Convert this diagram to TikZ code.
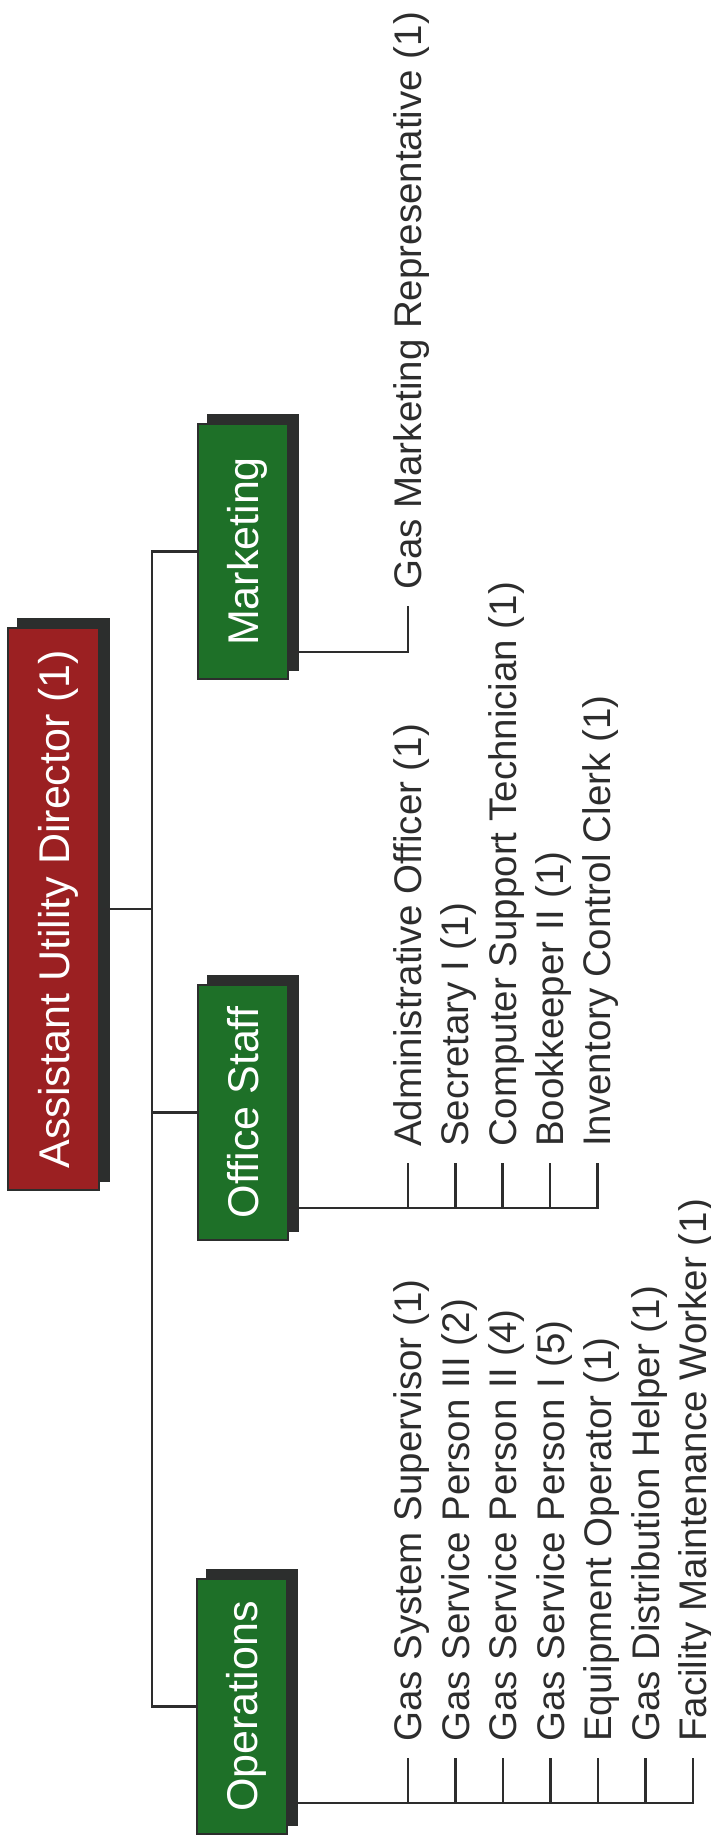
\documentclass[tikz,border=0pt]{standalone}
\usepackage{fontspec}
\setmainfont{Liberation Sans}
\usetikzlibrary{positioning,backgrounds}
\definecolor{dirred}{RGB}{155,32,34}
\definecolor{deptgreen}{RGB}{30,112,40}
\definecolor{shadowgrey}{RGB}{44,46,45}
\definecolor{linegrey}{RGB}{45,45,45}

\tikzset{
	boss/.style={draw=shadowgrey, line width=2pt, fill=dirred, text=white, rotate=90,
		minimum width=562pt, minimum height=91pt, inner sep=0pt, text height=31pt, text depth=0pt,
		font=\fontsize{43}{43}\selectfont},
	dept/.style={draw=shadowgrey, line width=2pt, fill=deptgreen, text=white, rotate=90,
		minimum width=255pt, minimum height=90pt, inner sep=0pt, text height=31pt, text depth=0pt,
		font=\fontsize{43}{43}\selectfont},
	job/.style={rotate=90, anchor=west, inner xsep=16pt, inner ysep=0pt, text height=27pt, text depth=0pt,
		text=linegrey, font=\fontsize{38.5}{38.5}\selectfont},
	link/.style={draw=linegrey, line width=2.6pt},
}

\begin{document}
\begin{tikzpicture}[x=1pt, y=-1pt]
	\useasboundingbox (0,0) rectangle (711,1838);
	% boxes
	\node[boss] (dir) at (53.5,909) {Assistant Utility Director (1)};
	\node[dept] (mkt) at (242.5,551.5) {Marketing};
	\node[dept] (office) at (242.5,1112.5) {Office Staff};
	\node[dept] (ops) at (242,1706.5) {Operations};
	\begin{pgfonlayer}{background}
		\foreach \b in {dir,mkt,office,ops}
			\fill[shadowgrey] ([xshift=10pt,yshift=9pt]\b.south west) rectangle ([xshift=10pt,yshift=9pt]\b.north east);
	\end{pgfonlayer}
	% trunk
	\coordinate (trunk) at (152,909);
	\draw[link] (dir.south) -- (trunk);
	\draw[link] (mkt.north) -| (trunk) |- (ops.north);
	\draw[link] (office.north) -- (office.north -| trunk);
	% marketing
	\node[job] (gmr) at (408,606) {Gas Marketing Representative (1)};
	\coordinate (mktbus) at ([yshift=28pt]mkt.south west);
	\draw[link] (mktbus) -| (gmr.west);
	% office staff
	\foreach \job [count=\i from 0] in {Administrative Officer (1), Secretary I (1),
		Computer Support Technician (1), Bookkeeper II (1), Inventory Control Clerk (1)}
		\node[job] (off-\i) at (408+47.3*\i,1163) {\job};
	\coordinate (offbus) at ([yshift=33pt]office.south west);
	\draw[link] (offbus) -| (off-4.west);
	\foreach \i in {0,...,3}
		\draw[link] (off-\i.west) -- (off-\i.west |- offbus);
	% operations
	\foreach \job [count=\i from 0] in {Gas System Supervisor (1), Gas Service Person III (2),
		Gas Service Person II (4), Gas Service Person I (5), Equipment Operator (1),
		Gas Distribution Helper (1), Facility Maintenance Worker (1)}
		\node[job] (ops-\i) at (408+47.5*\i,1758) {\job};
	\coordinate (opsbus) at ([yshift=32pt]ops.south west);
	\draw[link] (opsbus) -| (ops-6.west);
	\foreach \i in {0,...,5}
		\draw[link] (ops-\i.west) -- (ops-\i.west |- opsbus);
\end{tikzpicture}
\end{document}
